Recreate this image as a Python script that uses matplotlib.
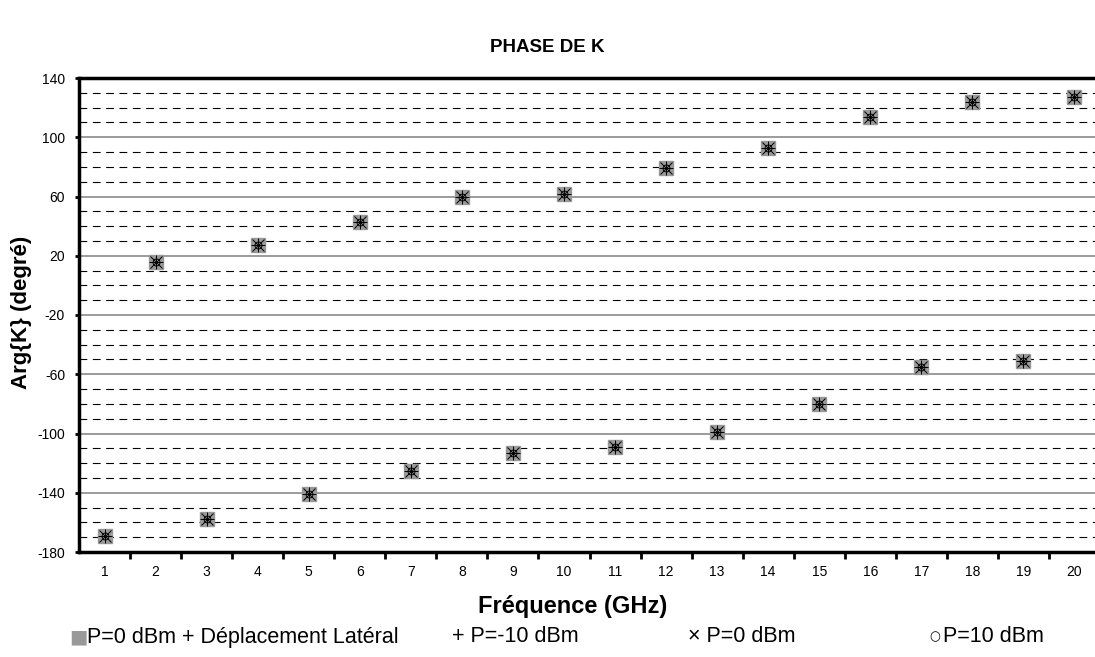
import matplotlib
matplotlib.use("Agg")
import matplotlib.pyplot as plt
import numpy as np

plt.rcParams['font.family'] = ['Liberation Sans', 'DejaVu Sans']

freq = list(range(1, 21))
phase_lat = [-169, 16, -158, 27, -141, 43, -125, 60, -113, 62, -109, 79, -99, 93, -80, 114, -55, 124, -51, 127]
phase_m10 = [-169, 16, -158, 27, -141, 43, -125, 60, -113, 62, -109, 79, -99, 93, -80, 114, -55, 124, -51, 127]
phase_0 = [-169, 16, -158, 27, -141, 43, -125, 60, -113, 62, -109, 79, -99, 93, -80, 114, -55, 124, -51, 127]
phase_p10 = [-169, 16, -158, 27, -141, 43, -125, 60, -113, 62, -109, 79, -99, 93, -80, 114, -55, 124, -51, 127]
xticklabels = [str(f) for f in freq]
yticks = list(range(-180, 141, 40))

fig = plt.figure(figsize=(10.95, 6.57), dpi=100)
ax = fig.add_axes([79/1095, 1-552/657, (1100-79)/1095, (552-78)/657])

ax.set_xlim(0.5, 20.5)
ax.set_ylim(-180, 140)

# grid lines
for v in range(-170, 140, 10):
    if v % 40 == (-180) % 40:
        ax.axhline(v, color='#808080', lw=1.1, zorder=1)
    else:
        ax.axhline(v, color='black', lw=0.8, dashes=(7, 5), zorder=1)

ax.plot(freq, phase_lat, ls='none', marker='s', ms=10, mfc='#999999', mec='#999999', zorder=3)
ax.plot(freq, phase_m10, ls='none', marker='+', ms=10, mec='black', mew=0.7, zorder=4)
ax.plot(freq, phase_0, ls='none', marker='x', ms=8, mec='black', mew=0.7, zorder=4)
ax.plot(freq, phase_p10, ls='none', marker='o', ms=5, mfc='none', mec='black', mew=0.7, zorder=4)

ax.set_yticks(yticks)
ax.set_yticklabels([str(v) for v in yticks], fontsize=10)
ax.set_xticks(freq)
ax.set_xticklabels(xticklabels, fontsize=10)
ax.tick_params(axis='x', which='major', length=0, pad=9)
ax.set_xticks([f + 0.5 for f in freq[:-1]], minor=True)
ax.tick_params(axis='x', which='minor', length=5, width=2, direction='out')
ax.tick_params(axis='y', which='major', length=3, width=2, direction='out', pad=7)

for s in ['left', 'bottom', 'top']:
    ax.spines[s].set_linewidth(2.5)
ax.spines['right'].set_visible(False)

fig.text(573/1095, 1-607/657, 'Fréquence (GHz)', ha='center', va='center', fontsize=17, fontweight='bold')
fig.text(22/1095, 1-312/657, 'Arg{K} (degré)', ha='center', va='center', rotation=90, fontsize=16, fontweight='bold')
fig.text(547/1095, 1-47/657, 'PHASE DE K', ha='center', va='center', fontsize=13.5, fontweight='bold')

ly = 1 - 637/657
fig.text(69/1095, ly, '■', color='#999999', fontsize=14, va='center', family=['DejaVu Sans'])
fig.text(87/1095, ly, 'P=0 dBm + Déplacement Latéral', fontsize=15.5, va='center')
fig.text(452/1095, ly, '+ P=-10 dBm', fontsize=15.5, va='center')
fig.text(688/1095, ly, '× P=0 dBm', fontsize=15.5, va='center')
fig.text(929/1095, ly, '○', fontsize=9, va='center', family=['DejaVu Sans'])
fig.text(943/1095, ly, 'P=10 dBm', fontsize=15.5, va='center')

fig.savefig('out.png', dpi=100)
